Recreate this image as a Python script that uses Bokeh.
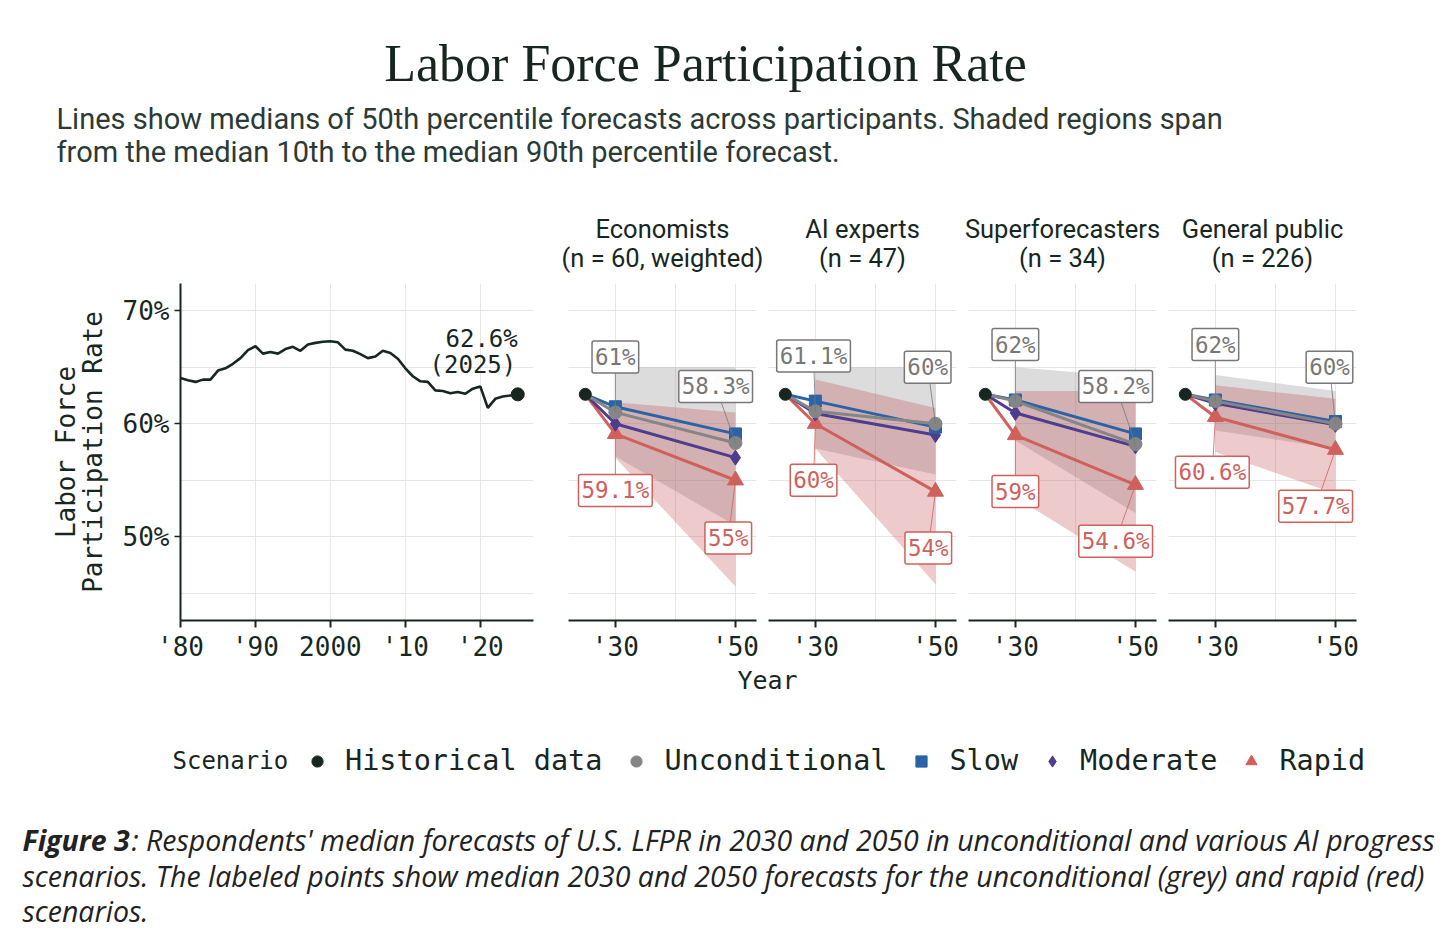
import math
from bokeh.plotting import figure
from bokeh.models import Range1d, FixedTicker, Label, Legend, LegendItem, Grid
from bokeh.layouts import column, row
from bokeh.embed import file_html
from bokeh.resources import INLINE

# ---------------- data ----------------
hist_years = list(range(1980, 2026))
hist_lfpr = [64.05, 63.85, 63.7, 63.9, 63.9, 64.7, 64.9, 65.3, 65.8, 66.5,
             66.85, 66.2, 66.35, 66.2, 66.6, 66.8, 66.45, 67.0, 67.15, 67.25,
             67.3, 67.2, 66.55, 66.45, 66.15, 65.8, 65.95, 66.45, 66.25, 65.75,
             64.9, 64.2, 63.75, 63.7, 62.95, 62.9, 62.7, 62.8, 62.65, 63.1,
             63.3, 61.4, 62.2, 62.4, 62.5, 62.6]

groups = ["Economists", "AI experts", "Superforecasters", "General public"]
group_sizes = ["(n = 60, weighted)", "(n = 47)", "(n = 34)", "(n = 226)"]
forecast_years = [2030, 2050]

uncond_median = [[61.0, 58.3], [61.1, 60.0], [62.0, 58.2], [62.0, 60.0]]
slow_median = [[61.5, 59.1], [62.0, 59.7], [62.1, 59.1], [62.1, 60.2]]
moderate_median = [[60.0, 57.0], [60.9, 59.0], [60.95, 58.0], [61.8, 59.9]]
rapid_median = [[59.1, 55.0], [60.0, 54.0], [59.0, 54.6], [60.6, 57.7]]

uncond_p10 = [[57.1, 51.0], [57.8, 55.5], [58.5, 52.1], [59.4, 57.8]]
uncond_p90 = [[65.0, 65.0], [65.0, 65.0], [65.0, 64.1], [64.3, 62.9]]
rapid_p10 = [[57.0, 45.6], [57.8, 45.8], [53.5, 46.9], [57.5, 53.8]]
rapid_p90 = [[61.9, 61.0], [63.9, 61.4], [62.9, 62.9], [63.4, 62.2]]

hist_ticks = [1980, 1990, 2000, 2010, 2020]
hist_tick_labels = ["'80", "'90", "2000", "'10", "'20"]
fc_ticks = [2030, 2050]
fc_tick_labels = ["'30", "'50"]
y_ticks = [50, 60, 70]
y_tick_labels = ["50%", "60%", "70%"]

# label placement (data units) for the annotated values
uncond_label_xy = [[(2030, 65.9), (2046.7, 63.3)], [(2029.7, 66.0), (2048.7, 65.0)],
                   [(2030, 67.0), (2046.7, 63.3)], [(2030, 67.0), (2049.0, 65.0)]]
rapid_label_xy = [[(2030, 54.1), (2048.8, 49.9)], [(2029.7, 55.0), (2048.8, 49.0)],
                  [(2030, 54.0), (2046.7, 49.6)], [(2029.5, 55.7), (2046.7, 52.7)]]

# ---------------- style / layout constants ----------------
MONO = "DejaVu Sans Mono"
SANS = "Roboto"
SERIF = "Liberation Serif"
CAP = "Open Sans"
INK = "#17271f"
GRID = "#e6e6e6"
GREY = "#858585"
GREY_T = "#777777"
BLUE = "#2a63a6"
PURPLE = "#4e3c8e"
RED = "#d0605b"
Y_RANGE = (42.6, 72.4)
FC_RANGE = (2022.2, 2053.5)
FRAME_H = 337
BOTTOM = 45
H_LEFT, H_FRAME_W, H_RIGHT = 180, 353, 29
F_PAD, F_FRAME_W = 6, 188
PAGE_W = 1456
HEADER_H = 283
FOOTER_H = 267


def style_xaxis(p):
    ax = p.xaxis[0]
    ax.axis_line_color = INK
    ax.axis_line_width = 2
    ax.major_tick_line_color = INK
    ax.major_tick_line_width = 2
    ax.major_tick_out = 7
    ax.major_tick_in = 0
    ax.minor_tick_line_color = None
    ax.major_label_text_font = MONO
    ax.major_label_text_font_size = "26px"
    ax.major_label_text_color = INK
    ax.major_label_standoff = 4


def base_fig(xr, **kw):
    p = figure(title=None, frame_height=FRAME_H, min_border_top=0, min_border_bottom=BOTTOM,
               x_range=Range1d(*xr), y_range=Range1d(*Y_RANGE),
               output_backend="svg", toolbar_location=None, **kw)
    p.outline_line_color = None
    p.background_fill_color = "white"
    p.border_fill_color = "white"
    return p


# ---------------- historical panel ----------------
ph = base_fig((1980, 2027.1), frame_width=H_FRAME_W, min_border_left=H_LEFT, min_border_right=H_RIGHT)
style_xaxis(ph)
ph.xaxis.ticker = FixedTicker(ticks=hist_ticks)
ph.xaxis.major_label_overrides = dict(zip(hist_ticks, hist_tick_labels))
ph.xgrid.grid_line_color = GRID
ya = ph.yaxis[0]
ya.ticker = FixedTicker(ticks=y_ticks, minor_ticks=[45, 55, 65])
ya.major_label_overrides = dict(zip(y_ticks, y_tick_labels))
ya.axis_line_color = INK
ya.axis_line_width = 2
ya.major_tick_line_color = INK
ya.major_tick_line_width = 1.5
ya.major_tick_out = 6
ya.major_tick_in = 0
ya.minor_tick_line_color = None
ya.major_label_text_font = MONO
ya.major_label_text_font_size = "26px"
ya.major_label_text_color = INK
ya.major_label_standoff = 5
ya.axis_label = "Labor Force\nParticipation Rate"
ya.axis_label_text_font = MONO
ya.axis_label_text_font_size = "26px"
ya.axis_label_text_font_style = "normal"
ya.axis_label_text_color = INK
ya.axis_label_text_line_height = 0.9
ya.axis_label_standoff = 12
ph.ygrid.grid_line_color = GRID
ph.ygrid.minor_grid_line_color = GRID

ph.line(hist_years, hist_lfpr, line_color=INK, line_width=2.6)
ph.scatter([hist_years[-1]], [hist_lfpr[-1]], size=13, color=INK)
ph.add_layout(Label(x=hist_years[-1], y=67.45, text=f"{hist_lfpr[-1]:.1f}%", text_align="right",
                    text_baseline="middle", text_font=MONO, text_font_size="24px", text_color=INK))
ph.add_layout(Label(x=hist_years[-1] - 0.2, y=65.2, text=f"({hist_years[-1]})", text_align="right",
                    text_baseline="middle", text_font=MONO, text_font_size="24px", text_color=INK))

# ---------------- forecast panels ----------------
scenarios = [
    ("Rapid", rapid_median, RED, "triangle", 16),
    ("Moderate", moderate_median, PURPLE, "diamond", 15),
    ("Slow", slow_median, BLUE, "square", 12),
    ("Unconditional", uncond_median, GREY, "circle", 13),
]


def fmt(v):
    return f"{v:g}%"


panels = []
for i in range(4):
    p = base_fig(FC_RANGE, frame_width=F_FRAME_W, min_border_left=F_PAD, min_border_right=F_PAD,
                 y_axis_location=None)
    style_xaxis(p)
    p.xaxis.ticker = FixedTicker(ticks=fc_ticks, minor_ticks=[2040])
    p.xaxis.major_label_overrides = dict(zip(fc_ticks, fc_tick_labels))
    p.xgrid.grid_line_color = GRID
    p.xgrid.minor_grid_line_color = GRID
    p.add_layout(Grid(dimension=1, ticker=FixedTicker(ticks=[45, 50, 55, 60, 65, 70]),
                      grid_line_color=GRID))

    # shaded 10th-90th ranges
    p.varea(x=forecast_years, y1=uncond_p10[i], y2=uncond_p90[i], fill_color="#8a8a8a", fill_alpha=0.3)
    p.varea(x=forecast_years, y1=rapid_p10[i], y2=rapid_p90[i], fill_color="#bb3f48", fill_alpha=0.27)

    xs = [hist_years[-1]] + forecast_years
    for name, med, col, mk, sz in scenarios:
        ys = [hist_lfpr[-1]] + med[i]
        p.line(xs, ys, line_color=col, line_width=3)
        p.scatter(forecast_years, med[i], marker=mk, size=sz, color=col)
    p.scatter([hist_years[-1]], [hist_lfpr[-1]], size=12, color=INK)

    # labelled values with leader lines
    for med, xy, col in [(uncond_median, uncond_label_xy, GREY_T), (rapid_median, rapid_label_xy, RED)]:
        for k in range(2):
            lx, ly = xy[i][k]
            p.segment(x0=[lx], y0=[ly], x1=[forecast_years[k]], y1=[med[i][k]], line_color=col,
                      line_width=1, line_alpha=0.8)
            p.add_layout(Label(x=lx, y=ly, text=fmt(med[i][k]), text_align="center",
                               text_baseline="middle", text_font=MONO, text_font_size="22.5px",
                               text_color=col, background_fill_color="white",
                               border_line_color=col, border_line_width=1.5, padding=3,
                               border_radius=2))
    panels.append(p)

# ---------------- header (title, subtitle, facet titles) ----------------
header = figure(width=PAGE_W, height=HEADER_H, x_range=Range1d(0, PAGE_W), y_range=Range1d(HEADER_H, 0),
                min_border=0, x_axis_location=None, y_axis_location=None, title=None,
                output_backend="svg", toolbar_location=None)
header.grid.visible = False
header.outline_line_color = None
header.add_layout(Label(x=705, y=63, text="Labor Force Participation Rate", text_align="center",
                        text_baseline="middle", text_font=SERIF, text_font_size="52px", text_color=INK))
header.add_layout(Label(x=56, y=118,
                        text="Lines show medians of 50th percentile forecasts across participants. Shaded regions span",
                        text_align="left", text_baseline="middle", text_font=SANS, text_font_size="29px",
                        text_color="#2b3a34"))
header.add_layout(Label(x=56, y=151, text="from the median 10th to the median 90th percentile forecast.",
                        text_align="left", text_baseline="middle", text_font=SANS, text_font_size="29px",
                        text_color="#2b3a34"))
first_center = H_LEFT + H_FRAME_W + H_RIGHT + F_PAD + F_FRAME_W / 2
panel_step = F_FRAME_W + 2 * F_PAD
for i in range(4):
    cx = first_center + i * panel_step
    header.add_layout(Label(x=cx, y=HEADER_H - 55, text=groups[i], text_align="center",
                            text_baseline="middle", text_font=SANS, text_font_size="25.5px", text_color=INK))
    header.add_layout(Label(x=cx, y=HEADER_H - 26, text=group_sizes[i], text_align="center",
                            text_baseline="middle", text_font=SANS, text_font_size="25.5px", text_color=INK))

# ---------------- footer: x label, legend, caption ----------------
footer = figure(width=PAGE_W, height=FOOTER_H, x_range=Range1d(0, PAGE_W), y_range=Range1d(FOOTER_H, 0),
                min_border=0, x_axis_location=None, y_axis_location=None, title=None,
                output_backend="svg", toolbar_location=None)
footer.grid.visible = False
footer.outline_line_color = None
footer.add_layout(Label(x=767, y=15, text="Year", text_align="center", text_baseline="middle",
                        text_font=MONO, text_font_size="25px", text_color=INK))
footer.add_layout(Label(x=172, y=95, text="Scenario", text_align="left", text_baseline="middle",
                        text_font=MONO, text_font_size="24px", text_color=INK))

legend_entries = [("Historical data", INK, "circle"), ("Unconditional", GREY, "circle"),
                  ("Slow", BLUE, "square"), ("Moderate", PURPLE, "diamond"), ("Rapid", RED, "triangle")]
items = []
for lab, col, mk in legend_entries:
    r = footer.scatter([math.nan], [math.nan], marker=mk, size=10, color=col)
    items.append(LegendItem(label=lab, renderers=[r]))
leg = Legend(items=items, orientation="horizontal", location=(303, 155),
             label_text_font=MONO, label_text_font_size="28.5px", label_text_color=INK,
             glyph_width=28, glyph_height=28, label_standoff=14, spacing=20,
             padding=0, margin=0, border_line_color=None, background_fill_alpha=0)
footer.add_layout(leg)

cap_style = dict(text_baseline="middle", text_font=CAP, text_font_size="28.5px", text_color="#222222",
                 text_font_style="italic")
footer.add_layout(Label(x=22, y=174, text="Figure 3", text_align="left",
                        **{**cap_style, "text_font_style": "bold italic"}))
footer.add_layout(Label(x=131, y=174,
                        text=": Respondents' median forecasts of U.S. LFPR in 2030 and 2050 in unconditional and various AI progress",
                        text_align="left", **cap_style))
footer.add_layout(Label(x=22, y=210,
                        text="scenarios. The labeled points show median 2030 and 2050 forecasts for the unconditional (grey) and rapid (red)",
                        text_align="left", **cap_style))
footer.add_layout(Label(x=22, y=245, text="scenarios.", text_align="left", **cap_style))

layout = column(header, row(ph, *panels), footer)
open("out.html", "w").write(file_html(layout, INLINE))
